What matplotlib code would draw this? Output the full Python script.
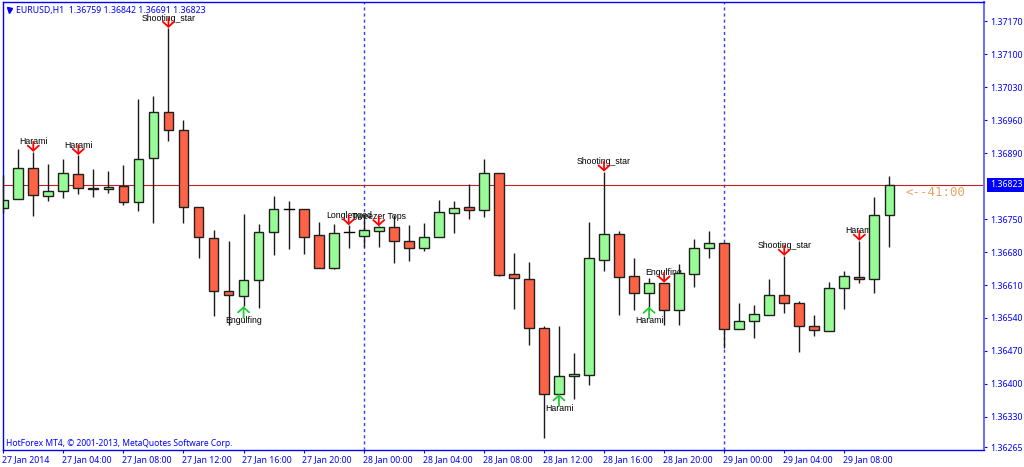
import matplotlib
matplotlib.use('Agg')
import matplotlib.pyplot as plt
from matplotlib.transforms import ScaledTranslation

BLUE = '#0000ff'
BULL = '#98fb98'
BEAR = '#ff6347'
W, H = 1024, 467

# hourly bars, EURUSD H1, one entry per candle
opens = [1.36774, 1.36792, 1.36858, 1.36799, 1.36809, 1.36845, 1.36817, 1.36813, 1.36821, 1.36787,
         1.36879, 1.36977, 1.36940, 1.36775, 1.36710, 1.36597, 1.36586, 1.36620, 1.36723, 1.36771,
         1.36772, 1.36716, 1.36646, 1.36723, 1.36715, 1.36725, 1.36734, 1.36704, 1.36688, 1.36712,
         1.36764, 1.36776, 1.36770, 1.36847, 1.36634, 1.36622, 1.36518, 1.36378, 1.36416, 1.36418,
         1.36664, 1.36718, 1.36630, 1.36594, 1.36614, 1.36557, 1.36633, 1.36688, 1.36700, 1.36516,
         1.36534, 1.36546, 1.36588, 1.36572, 1.36522, 1.36512, 1.36604, 1.36628, 1.36622, 1.36759]
highs = [1.36844, 1.36900, 1.36893, 1.36868, 1.36878, 1.36886, 1.36856, 1.36852, 1.36866, 1.37006,
         1.37012, 1.37156, 1.36961, 1.36775, 1.36727, 1.36703, 1.36761, 1.36739, 1.36800, 1.36788,
         1.36772, 1.36744, 1.36740, 1.36737, 1.36759, 1.36735, 1.36759, 1.36737, 1.36742, 1.36791,
         1.36788, 1.36824, 1.36878, 1.36847, 1.36679, 1.36658, 1.36523, 1.36523, 1.36465, 1.36744,
         1.36851, 1.36725, 1.36667, 1.36624, 1.36615, 1.36654, 1.36707, 1.36725, 1.36701, 1.36571,
         1.36567, 1.36623, 1.36672, 1.36577, 1.36547, 1.36616, 1.36640, 1.36704, 1.36796, 1.36842]
lows = [1.36763, 1.36792, 1.36757, 1.36788, 1.36795, 1.36803, 1.36798, 1.36806, 1.36780, 1.36768,
        1.36741, 1.36917, 1.36741, 1.36667, 1.36545, 1.36526, 1.36565, 1.36561, 1.36674, 1.36687,
        1.36676, 1.36646, 1.36644, 1.36688, 1.36691, 1.36691, 1.36656, 1.36662, 1.36683, 1.36712,
        1.36721, 1.36750, 1.36755, 1.36630, 1.36558, 1.36483, 1.36284, 1.36378, 1.36367, 1.36398,
        1.36639, 1.36546, 1.36557, 1.36564, 1.36525, 1.36525, 1.36605, 1.36667, 1.36476, 1.36516,
        1.36497, 1.36546, 1.36551, 1.36468, 1.36502, 1.36512, 1.36559, 1.36614, 1.36592, 1.36691]
closes = [1.36790, 1.36859, 1.36801, 1.36810, 1.36847, 1.36817, 1.36813, 1.36819, 1.36787, 1.36877,
          1.36977, 1.36940, 1.36775, 1.36711, 1.36598, 1.36588, 1.36620, 1.36723, 1.36772, 1.36771,
          1.36713, 1.36646, 1.36720, 1.36723, 1.36726, 1.36734, 1.36704, 1.36688, 1.36711, 1.36766,
          1.36774, 1.36769, 1.36849, 1.36632, 1.36624, 1.36518, 1.36378, 1.36416, 1.36420, 1.36667,
          1.36718, 1.36628, 1.36592, 1.36614, 1.36556, 1.36635, 1.36688, 1.36700, 1.36516, 1.36534,
          1.36548, 1.36588, 1.36572, 1.36522, 1.36514, 1.36604, 1.36630, 1.36622, 1.36758, 1.36823]

x_ticks = list(range(0, 60, 4))
x_labels = ['27 Jan 2014', '27 Jan 04:00', '27 Jan 08:00', '27 Jan 12:00', '27 Jan 16:00',
            '27 Jan 20:00', '28 Jan 00:00', '28 Jan 04:00', '28 Jan 08:00', '28 Jan 12:00',
            '28 Jan 16:00', '28 Jan 20:00', '29 Jan 00:00', '29 Jan 04:00', '29 Jan 08:00']
y_ticks = [1.37170, 1.37100, 1.37030, 1.36960, 1.36890, 1.36750, 1.36680, 1.36610,
           1.36540, 1.36470, 1.36400, 1.36330, 1.36265]
day_breaks = [24, 48]
bid = 1.36823

# candle index, name, direction
pattern_idx = [2, 5, 11, 16, 23, 25, 37, 40, 43, 44, 52, 57]
pattern_names = ['Harami', 'Harami', 'Shooting_star', 'Engulfing', 'Longlegged', 'Tweezer Tops',
                 'Harami', 'Shooting_star', 'Harami', 'Engulfing', 'Shooting_star', 'Harami']
pattern_up = [False, False, False, True, False, False, True, False, True, False, False, False]

plt.rcParams['font.family'] = ['Noto Sans', 'DejaVu Sans']
fig = plt.figure(figsize=(W / 100, H / 100), dpi=100)
ax = fig.add_axes([2.5 / W, 1 - 450.3 / H, (984 - 2.5) / W, (450.3 - 2) / H])
ax.set_xlim(-0.05, (984 - 3.2) / 15.02)
ax.set_ylim(1.362588, 1.372113)

for s in ['left', 'top', 'right', 'bottom']:
    ax.spines[s].set_color(BLUE)
    ax.spines[s].set_linewidth(1.0)
ax.spines['right'].set_color('#6a6aff')
ax.spines['right'].set_linewidth(1.4)

for i in day_breaks:
    ax.axvline(i, color='#3a3aff', lw=1.0, ls=(0, (2.2, 2.2)), zorder=1)
ax.axhline(bid, color='#c42020', lw=0.8, zorder=1.5)

# wicks and bodies, drawn on top of the pattern labels like the terminal does
for i in range(len(opens)):
    ax.plot([i, i], [lows[i], highs[i]], color='#1a1a1a', lw=1.0, zorder=6 if i == 0 else 3,
            solid_capstyle='butt', clip_on=False)
    o, c = opens[i], closes[i]
    up = c >= o
    if o == c:
        ax.plot([i - 0.33, i + 0.33], [o, o], color='black', lw=1.0, zorder=4)
    else:
        ax.bar(i, abs(c - o), bottom=min(o, c), width=0.65, color=BULL if up else BEAR,
               edgecolor='#202020', linewidth=1.0, zorder=4)

for i, name, up in zip(pattern_idx, pattern_names, pattern_up):
    tip = lows[i] if up else highs[i]
    arrow_len = -8.5 if up else 7.2
    text_off = -10 if up else 7.2
    ax.annotate('', xy=(i, tip), xytext=(0, arrow_len), textcoords='offset points',
                arrowprops=dict(arrowstyle='->,head_length=0.36,head_width=0.4',
                                color='#22cc33' if up else '#ff0000', lw=1.3, shrinkA=0, shrinkB=0),
                zorder=5)
    ax.annotate(name, xy=(i, tip), xytext=(0, text_off), textcoords='offset points',
                ha='center', va='center', fontsize=6.3, color='black',
                family=['Liberation Sans', 'DejaVu Sans'], zorder=2, annotation_clip=False)

ax.set_xticks(x_ticks)
ax.set_xticklabels(x_labels, ha='left', fontsize=6.3, color=BLUE)
ax.tick_params(axis='x', length=2.5, width=0.8, color=BLUE, pad=1)
ax.yaxis.tick_right()
ax.set_yticks(y_ticks)
ax.set_yticklabels([f'{v:.5f}' for v in y_ticks], fontsize=6.3, color=BLUE)
ax.tick_params(axis='y', length=2.5, width=0.8, color=BLUE, pad=2)
shift = ScaledTranslation(-1.2 / 100, 0, fig.dpi_scale_trans)
for lab in ax.get_xticklabels():
    lab.set_transform(lab.get_transform() + shift)

# current price box on the scale
ax.annotate(f'{bid:.5f}', xy=(1, bid), xycoords=('axes fraction', 'data'), xytext=(4.3, 0),
            textcoords='offset points', va='center', ha='left', fontsize=6.3, color='white',
            bbox=dict(boxstyle='square,pad=0.3', fc=BLUE, ec=BLUE, lw=0), annotation_clip=False)

fig.text(16 / W, 1 - 10 / H, 'EURUSD,H1  1.36759 1.36842 1.36691 1.36823', fontsize=6.3,
         color=BLUE, va='center')
ax.plot([9 / W], [1 - 10 / H], marker='v', ms=3.6, color=BLUE, transform=fig.transFigure,
        clip_on=False, zorder=6)
fig.text(6 / W, 1 - 443 / H, 'HotForex MT4, © 2001-2013, MetaQuotes Software Corp.', fontsize=6.1,
         color=BLUE, va='center')
fig.text(905 / W, 1 - 192 / H, '<--41:00', fontsize=9, color='#e8a468', va='center',
         family=['DejaVu Sans Mono'])

fig.savefig('out.png', dpi=100, facecolor='white')
plt.close(fig)
